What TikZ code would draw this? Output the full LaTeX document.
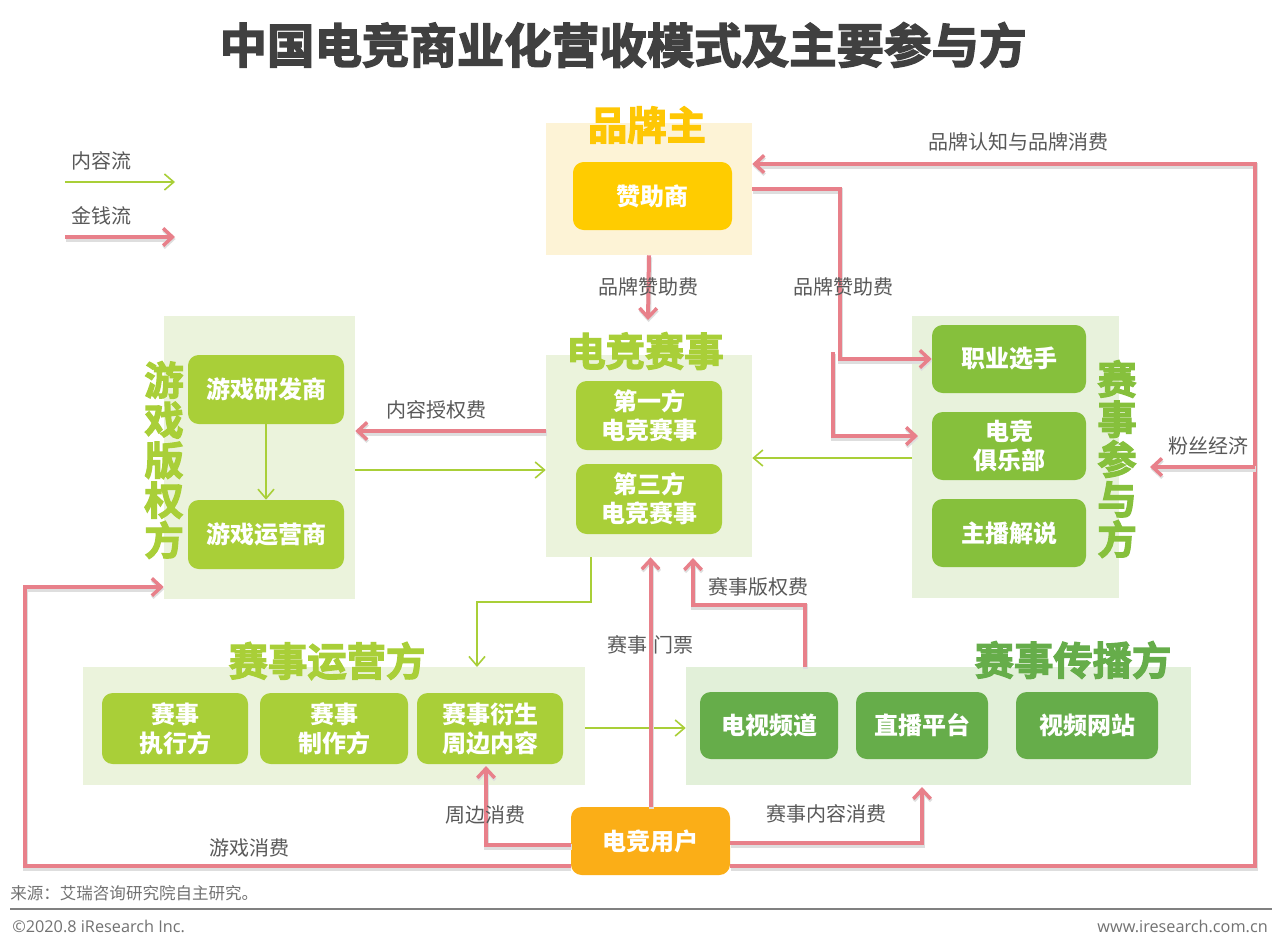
\documentclass[tikz,border=0pt]{standalone}
\usepackage{fontspec}
\setmainfont{Noto Sans CJK SC}
\newfontfamily\latinfont{Open Sans}
\newfontfamily\heavyfont[UprightFont=* Bold,FakeBold=3]{Noto Sans CJK SC}
\usetikzlibrary{arrows.meta}
\definecolor{moneyc}{HTML}{E8808A}
\definecolor{flowc}{HTML}{A9CF38}
\definecolor{lime}{HTML}{A9CF38}
\definecolor{grassc}{HTML}{86C03C}
\definecolor{leafc}{HTML}{66AD4A}
\definecolor{goldc}{HTML}{FFCC00}
\definecolor{amberc}{HTML}{FBAE17}
\definecolor{panelgold}{HTML}{FDF3D6}
\definecolor{panellime}{HTML}{EBF3DC}
\definecolor{panelgrass}{HTML}{E8F2DC}
\definecolor{panelleaf}{HTML}{E2F0D9}
\definecolor{labelc}{HTML}{595959}
\definecolor{titlec}{HTML}{404040}
\newcommand{\pxbox}[7]{%
  \pgfmathsetmacro{\cxv}{(#3+#5)/2}%
  \pgfmathsetmacro{\cyv}{(#4+#6)/2}%
  \pgfmathsetmacro{\wv}{(#5-#3)*0.75}%
  \pgfmathsetmacro{\hv}{(#6-#4)*0.75}%
  \node[#2,minimum width=\wv pt,minimum height=\hv pt] (#1) at (\cxv,\cyv) {#7};}
\tikzset{
  panelbox/.style={inner sep=0pt,draw=none},
  card/.style={inner sep=0pt,rounded corners=8pt,text=white,align=center,
    font=\fontsize{18pt}{22pt}\selectfont\bfseries},
  head/.style={inner sep=0pt,align=center,font=\fontsize{29.5pt}{30pt}\selectfont\heavyfont},
  lab/.style={inner sep=0pt,text=labelc,font=\fontsize{15pt}{18pt}\selectfont},
  money/.style={draw=moneyc,line width=3pt,line join=miter,
    -{Straight Barb[length=7pt,width=13pt,line width=2.6pt]},
    preaction={draw=black!13,line width=3.8pt,transform canvas={shift={(0.4pt,-1.5pt)}}}},
  flow/.style={draw=flowc,line width=1.3pt,line join=miter,
    -{Straight Barb[length=7pt,width=12pt,line width=1.2pt]}},
}
\begin{document}
\begin{tikzpicture}[x=0.75pt,y=-0.75pt]
\useasboundingbox[fill=white] (0,0) rectangle (1277,951);

% panels
\pxbox{brand}{panelbox,fill=panelgold}{546}{123}{752}{255}{}
\pxbox{esports}{panelbox,fill=panellime}{546}{355}{752}{557}{}
\pxbox{game}{panelbox,fill=panellime}{164}{316}{355}{599}{}
\pxbox{part}{panelbox,fill=panelgrass}{912}{316}{1119}{598}{}
\pxbox{oper}{panelbox,fill=panellime}{83}{667}{585}{785}{}
\pxbox{cast}{panelbox,fill=panelleaf}{686}{667}{1191}{785}{}

% cards
\pxbox{sponsor}{card,fill=goldc}{573}{162}{732}{230}{赞助商}
\pxbox{first}{card,fill=lime}{576}{381}{722}{450}{第一方\\电竞赛事}
\pxbox{third}{card,fill=lime}{576}{464}{722}{534}{第三方\\电竞赛事}
\pxbox{dev}{card,fill=lime}{188}{355}{344}{424}{游戏研发商}
\pxbox{runner}{card,fill=lime}{188}{500}{344}{569}{游戏运营商}
\pxbox{pro}{card,fill=grassc}{932}{325}{1086}{393}{职业选手}
\pxbox{club}{card,fill=grassc}{932}{412}{1086}{480}{电竞\\俱乐部}
\pxbox{host}{card,fill=grassc}{932}{499}{1086}{567}{主播解说}
\pxbox{exec}{card,fill=lime}{102}{693}{248}{764}{赛事\\执行方}
\pxbox{prod}{card,fill=lime}{260}{693}{408}{764}{赛事\\制作方}
\pxbox{deriv}{card,fill=lime}{417}{693}{563}{764}{赛事衍生\\周边内容}
\pxbox{tv}{card,fill=leafc}{700}{692}{838}{759}{电视频道}
\pxbox{live}{card,fill=leafc}{856}{692}{988}{759}{直播平台}
\pxbox{video}{card,fill=leafc}{1016}{692}{1158}{759}{视频网站}
\pxbox{user}{card,fill=amberc}{571}{807}{730}{875}{电竞用户}

% routing points
\coordinate (legAa) at (65,182);  \coordinate (legAb) at (175,182);
\coordinate (legBa) at (65,237);  \coordinate (legBb) at (175,237);
\coordinate (outerR) at (1255,866);
\coordinate (outerT) at (1255,164);
\coordinate (fanR) at (1255,467);
\coordinate (fanTip) at (1150,467);
\coordinate (outerL) at (25,866);
\coordinate (gameIn) at (25,587);
\coordinate (spBend) at (840,189);
\coordinate (clubStart) at (833,352);
\coordinate (clubIn) at (918,436);
\coordinate (brandTip) at (648,320);
\coordinate (castOut) at (805,667);
\coordinate (castBend) at (805,605);
\coordinate (castTip) at (693,558);
\coordinate (userL) at (571,845);
\coordinate (userLb) at (486,845);
\coordinate (derivIn) at (486,766);
\coordinate (userR) at (730,843);
\coordinate (userRb) at (922,843);
\coordinate (castIn) at (922,787);
\coordinate (licY) at (546,431);
\coordinate (gameRevY) at (355,470);
\coordinate (partY) at (912,458);
\coordinate (esDown) at (591,557);
\coordinate (esBend) at (591,602);
\coordinate (opIn) at (477,667);
\coordinate (opOut) at (585,728);

% content flow
\draw[flow] (legAa) -- (legAb);
\draw[flow] (dev.south) -- (runner.north);
\draw[flow] (gameRevY) -- (esports.west |- gameRevY);
\draw[flow] (partY) -- (esports.east |- partY);
\draw[flow] (esDown) -- (esBend) -- (opIn |- esBend) -- (opIn);
\draw[flow] (opOut) -- (cast.west |- opOut);

% money flow
\draw[money] (legBa) -- (legBb);
\draw[money] (user.east |- outerR) -- (outerR) -- (outerT) -- (brand.east |- outerT);
\draw[money] (fanR) -- (fanTip);
\draw[money] (user.west |- outerL) -- (outerL) -- (gameIn) -- (game.west |- gameIn);
\draw[money] (brand.east |- spBend) -- (spBend) -- (spBend |- pro.west) -- (pro.west);
\draw[money] (clubStart) -- (clubStart |- clubIn) -- (clubIn);
\draw[money] (brand.south) -- (brandTip);
\draw[money] (licY) -- (game.east |- licY);
\draw[money] (user.north) -- (user.north |- esports.south);
\draw[money] (castOut) -- (castBend) -- (castTip |- castBend) -- (castTip);
\draw[money] (userL) -- (userLb) -- (derivIn);
\draw[money] (userR) -- (userRb) -- (castIn);

% title and headings
\node[inner sep=0pt,text=titlec,font=\fontsize{35.6pt}{40pt}\selectfont\heavyfont] (title) at (623,45) {中国电竞商业化营收模式及主要参与方};
\node[head,text=goldc!85!amberc] (hBrand) at (647,125) {品牌主};
\node[head,text=lime] (hEsports) at (645,351) {电竞赛事};
\node[head,text=lime] (hGame) at (164,460) {游\\戏\\版\\权\\方};
\node[head,text=grassc] (hPart) at (1117,459) {赛\\事\\参\\与\\方};
\node[head,text=lime] (hOper) at (327,661) {赛事运营方};
\node[head,text=leafc] (hCast) at (1073,660) {赛事传播方};

% labels
\node[lab] (tA) at (101,161) {内容流};
\node[lab] (tB) at (101,216) {金钱流};
\node[lab] (tC) at (1018,142) {品牌认知与品牌消费};
\node[lab] (tD) at (648,287) {品牌赞助费};
\node[lab] (tE) at (843,287) {品牌赞助费};
\node[lab] (tF) at (436,410) {内容授权费};
\node[lab] (tG) at (1208,446) {粉丝经济};
\node[lab] (tH) at (758,587) {赛事版权费};
\node[lab] (tI) at (650,645) {赛事\hspace{0.3em}门票};
\node[lab] (tJ) at (485,815) {周边消费};
\node[lab] (tK) at (826,814) {赛事内容消费};
\node[lab] (tL) at (249,848) {游戏消费};

% footer
\node[inner sep=0pt,anchor=west,text=labelc!85,font=\fontsize{12.4pt}{15pt}\selectfont] (src) at (10,893) {来源：艾瑞咨询研究院自主研究。};
\coordinate (ruleA) at (10,909); \coordinate (ruleB) at (1272,909);
\draw[draw=black!50,line width=1pt] (ruleA) -- (ruleB);
\node[inner sep=0pt,anchor=west,text=labelc!85,font=\latinfont\fontsize{12.2pt}{15pt}\selectfont] (copy) at (12,926) {©2020.8 iResearch Inc.};
\node[inner sep=0pt,anchor=east,text=labelc!85,font=\latinfont\fontsize{12.2pt}{15pt}\selectfont] (web) at (1268,926) {www.iresearch.com.cn};
\end{tikzpicture}
\end{document}
